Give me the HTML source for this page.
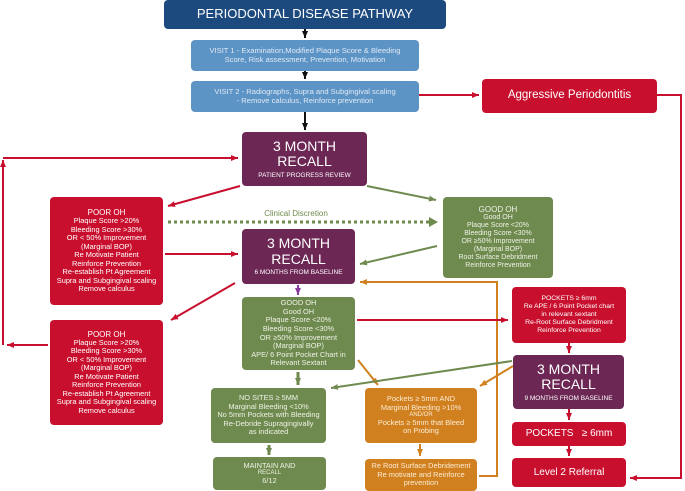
<!DOCTYPE html>
<html><head><meta charset="utf-8"><style>
body{margin:0;width:685px;height:491px;background:#fff;position:relative;overflow:hidden;font-family:"Liberation Sans",sans-serif;}
.b{position:absolute;box-sizing:border-box;border-radius:4px;color:#fff;text-align:center;display:flex;flex-direction:column;justify-content:center;align-items:center;line-height:1.15;}
.r{background:#c8102e}.p{background:#6c2754}.g{background:#6f8a4e;color:#eef2e6}.o{background:#d0801e;color:#fbecd6}.lb{background:#5d94c6;color:#dfe9f4}
.s{font-size:7.4px}
svg{position:absolute;left:0;top:0}
</style></head><body>
<svg width="685" height="491">
<defs>
<marker id="ar" markerUnits="userSpaceOnUse" markerWidth="8" markerHeight="8" refX="7" refY="4" orient="auto"><path d="M0,1 L7,4 L0,7z" fill="#c8102e"/></marker>
<marker id="ag" markerUnits="userSpaceOnUse" markerWidth="8" markerHeight="8" refX="7" refY="4" orient="auto"><path d="M0,1 L7,4 L0,7z" fill="#6f8a4e"/></marker>
<marker id="ag2" markerUnits="userSpaceOnUse" markerWidth="10" markerHeight="10" refX="9" refY="5" orient="auto"><path d="M0,0 L9,5 L0,10z" fill="#6f8a4e"/></marker>
<marker id="ao" markerUnits="userSpaceOnUse" markerWidth="8" markerHeight="8" refX="7" refY="4" orient="auto"><path d="M0,1 L7,4 L0,7z" fill="#d0801e"/></marker>
<marker id="ak" markerUnits="userSpaceOnUse" markerWidth="8" markerHeight="8" refX="7" refY="4" orient="auto"><path d="M0,1 L7,4 L0,7z" fill="#111"/></marker>
<marker id="ap" markerUnits="userSpaceOnUse" markerWidth="8" markerHeight="8" refX="7" refY="4" orient="auto"><path d="M0,1 L7,4 L0,7z" fill="#8a3a9a"/></marker>
</defs>
<g stroke-width="2" fill="none">
<line x1="305" y1="29" x2="305" y2="38" stroke="#111" marker-end="url(#ak)"/>
<line x1="305" y1="71" x2="305" y2="79" stroke="#111" marker-end="url(#ak)"/>
<line x1="305" y1="112" x2="305" y2="130" stroke="#111" marker-end="url(#ak)"/>
<line x1="419" y1="95" x2="479" y2="95" stroke="#c8102e" marker-end="url(#ar)"/>
<polyline points="657,95 681,95 681,478 630,478" stroke="#c8102e" marker-end="url(#ar)"/>
<line x1="3" y1="345" x2="3" y2="160" stroke="#c8102e" marker-end="url(#ar)"/>
<line x1="3" y1="158" x2="238" y2="158" stroke="#c8102e" marker-end="url(#ar)"/>
<line x1="48" y1="345" x2="7" y2="345" stroke="#c8102e" marker-end="url(#ar)"/>
<line x1="240" y1="186" x2="168" y2="206" stroke="#c8102e" marker-end="url(#ar)"/>
<line x1="165" y1="254" x2="238" y2="254" stroke="#c8102e" marker-end="url(#ar)"/>
<line x1="235" y1="283" x2="171" y2="320" stroke="#c8102e" marker-end="url(#ar)"/>
<line x1="367" y1="186" x2="436" y2="200" stroke="#6f8a4e" marker-end="url(#ag)"/>
<line x1="168" y1="222" x2="438" y2="222" stroke="#6f8a4e" stroke-width="3" stroke-dasharray="3,3" marker-end="url(#ag2)"/>
<line x1="437" y1="246" x2="360" y2="264" stroke="#6f8a4e" marker-end="url(#ag)"/>
<polyline points="479,476 497,476 497,282 360,282" stroke="#d0801e" marker-end="url(#ao)"/>
<line x1="298" y1="285" x2="298" y2="295" stroke="#8a3a9a" marker-end="url(#ap)"/>
<line x1="357" y1="320" x2="508" y2="320" stroke="#c8102e" marker-end="url(#ar)"/>
<line x1="358" y1="360" x2="378" y2="385" stroke="#d0801e" marker-end="url(#ao)"/>
<line x1="512" y1="361" x2="331" y2="388" stroke="#6f8a4e" marker-end="url(#ag)"/>
<line x1="513" y1="366" x2="480" y2="386" stroke="#d0801e" marker-end="url(#ao)"/>
<line x1="298" y1="372" x2="298" y2="385" stroke="#6f8a4e" stroke-width="3" marker-end="url(#ag)"/>
<line x1="269" y1="445" x2="269" y2="455" stroke="#6f8a4e" stroke-width="3" marker-end="url(#ag)"/>
<line x1="420" y1="444" x2="420" y2="456" stroke="#d0801e" marker-end="url(#ao)"/>
<line x1="569" y1="343" x2="569" y2="353" stroke="#c8102e" marker-end="url(#ar)"/>
<line x1="569" y1="409" x2="569" y2="420" stroke="#c8102e" marker-end="url(#ar)"/>
<line x1="569" y1="446" x2="569" y2="456" stroke="#c8102e" marker-end="url(#ar)"/>
</g>
<text x="296" y="216" font-size="8" fill="#6f8a4e" text-anchor="middle" font-family="Liberation Sans">Clinical Discretion</text>
</svg>
<div class="b" style="left:164px;top:0;width:282px;height:29px;background:#1d4a7e;font-size:13px">PERIODONTAL DISEASE PATHWAY</div>
<div class="b lb" style="left:191px;top:40px;width:228px;height:31px;font-size:7.6px">VISIT 1 - Examination,Modified Plaque Score &amp; Bleeding<br>Score, Risk assessment, Prevention, Motivation</div>
<div class="b lb" style="left:191px;top:81px;width:228px;height:31px;font-size:7.6px">VISIT 2 - Radiographs, Supra and Subgingival scaling<br>- Remove calculus, Reinforce prevention</div>
<div class="b r" style="left:482px;top:79px;width:175px;height:34px;font-size:11.5px">Aggressive Periodontitis</div>
<div class="b p" style="left:242px;top:132px;width:125px;height:54px"><div style="font-size:14px;line-height:1.1">3 MONTH<br>RECALL</div><div style="font-size:6.5px;margin-top:2px">PATIENT PROGRESS REVIEW</div></div>
<div class="b r s" style="left:50px;top:197px;width:113px;height:108px"><div style="font-size:8px">POOR OH</div>Plaque Score &gt;20%<br>Bleeding Score &gt;30%<br>OR &lt; 50% Improvement<br>(Marginal BOP)<br>Re Motivate Patient<br>Reinforce Prevention<br>Re-establish Pt Agreement<br>Supra and Subgingival scaling<br>Remove calculus</div>
<div class="b r s" style="left:50px;top:320px;width:113px;height:105px"><div style="font-size:8px">POOR OH</div>Plaque Score &gt;20%<br>Bleeding Score &gt;30%<br>OR &lt; 50% Improvement<br>(Marginal BOP)<br>Re Motivate Patient<br>Reinforce Prevention<br>Re-establish Pt Agreement<br>Supra and Subgingival scaling<br>Remove calculus</div>
<div class="b g s" style="left:443px;top:197px;width:110px;height:81px;font-size:7px"><div style="font-size:8px">GOOD OH</div>Good OH<br>Plaque Score &lt;20%<br>Bleeding Score &lt;30%<br>OR ≥50% Improvement<br>(Marginal BOP)<br>Root Surface Debridment<br>Reinforce Prevention</div>
<div class="b p" style="left:242px;top:229px;width:113px;height:55px"><div style="font-size:14px;line-height:1.1">3 MONTH<br>RECALL</div><div style="font-size:6.5px;margin-top:2px">6 MONTHS FROM BASELINE</div></div>
<div class="b g s" style="left:242px;top:297px;width:113px;height:73px"><div>GOOD OH</div>Good OH<br>Plaque Score &lt;20%<br>Bleeding Score &lt;30%<br>OR ≥50% Improvement<br>(Marginal BOP)<br>APE/ 6 Point Pocket Chart in<br>Relevant Sextant</div>
<div class="b r" style="left:512px;top:287px;width:114px;height:56px;font-size:6.8px">POCKETS ≥ 6mm<br>Re APE / 6 Point Pocket chart<br>in relevant sextant<br>Re-Root Surface Debridment<br>Reinforce Prevention</div>
<div class="b p" style="left:513px;top:355px;width:111px;height:54px"><div style="font-size:14px;line-height:1.1">3 MONTH<br>RECALL</div><div style="font-size:6.5px;margin-top:2px">9 MONTHS FROM BASELINE</div></div>
<div class="b r" style="left:512px;top:422px;width:114px;height:24px;font-size:10px">POCKETS &nbsp; ≥ 6mm</div>
<div class="b r" style="left:512px;top:458px;width:114px;height:29px;font-size:10px">Level 2 Referral</div>
<div class="b g s" style="left:211px;top:388px;width:115px;height:55px">NO SITES ≥ 5MM<br>Marginal Bleeding &lt;10%<br>No 5mm Pockets with Bleeding<br>Re-Debride Supragingivally<br>as indicated</div>
<div class="b g s" style="left:213px;top:457px;width:113px;height:33px">MAINTAIN AND<br><span style="font-size:6px">RECALL</span>6/12</div>
<div class="b o s" style="left:365px;top:388px;width:112px;height:55px">Pockets ≥ 5mm AND<br>Marginal Bleeding &gt;10%<br><span style="font-size:6px">AND/OR</span>Pockets ≥ 5mm that Bleed<br>on Probing</div>
<div class="b o s" style="left:365px;top:459px;width:112px;height:32px">Re Root Surface Debridement<br>Re motivate and Reinforce<br>prevention</div>
</body></html>
